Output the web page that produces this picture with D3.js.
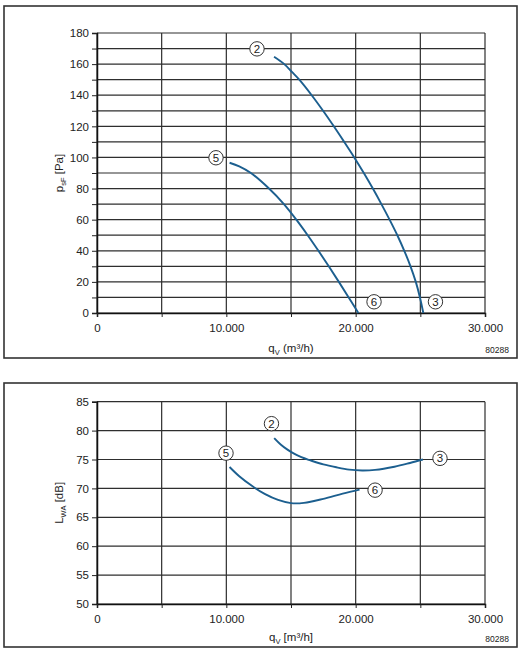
<!DOCTYPE html>
<html>
<head>
<meta charset="utf-8">
<script src="https://cdn.jsdelivr.net/npm/d3@7"></script>
<style>
  body { margin: 0; background: #fff; }
  svg text { font-family: "Liberation Sans", Arial, sans-serif; fill: #222; }
</style>
</head>
<body>
<div id="main"></div>
<script>

// pressure curves, q in m3/h, p in Pa
var pressure2 = [[13690,164.7],[14480,160],[15070,155],[15640,150],[16600,140],[17480,130],[18310,120],[19110,110],
                 [19890,100],[20630,90],[21330,80],[21990,70],[22620,60],[23220,50],[23760,40],[24240,30],
                 [24650,20],[24970,10],[25230,0]]
var pressure5 = [[10250,96.6],[11000,94.3],[11900,90],[13300,80],[14450,70],[15410,60],[16290,50],[17120,40],
                 [17920,30],[18700,20],[19460,10],[20210,0]]

// sound power curves, q in m3/h, LWA in dB
var sound2 = [[13700,78.7],[14200,77.6],[14700,76.75],[15200,76.05],[15800,75.4],[16500,74.85],[17500,74.15],
              [18500,73.65],[19500,73.25],[20500,73.1],[21500,73.2],[23000,73.75],[24200,74.4],[25200,75.0]]
var sound5 = [[10250,73.7],[11000,72.1],[12000,70.4],[13000,69.0],[14000,68.0],[15000,67.45],[16000,67.5],
              [17500,68.2],[19000,69.1],[20300,69.8]]

// operating point markers
var pressureMarks = [["2",12370,169.8],["5",9200,99.8],["6",21420,7.2],["3",26170,7.2]]
var soundMarks = [["2",13490,81.2],["5",9975,76.1],["3",26520,75.2],["6",21500,69.7]]

var xTicks = [0, 5000, 10000, 15000, 20000, 25000, 30000]
var xLabels = [0, 10000, 20000, 30000]
var pTicks = d3.range(0, 181, 10)
var pLabels = d3.range(0, 181, 20)
var lTicks = d3.range(50, 86, 5)

var W = 528, H = 655
var curveColor = "#1c5f8f"

var svg = d3.select("#main").append("svg")
	.attr("width", W)
	.attr("height", H)

function fmt(d) {
	return d === 0 ? "0" : d3.format(",")(d).replace(/,/g, ".")
}

function panel(o) {
	// frame
	svg.append("rect")
		.attr("x", 4).attr("y", o.frameTop)
		.attr("width", 513).attr("height", o.frameBottom - o.frameTop)
		.attr("fill", "none").attr("stroke", "#333").attr("stroke-width", 1.6)

	var x = d3.scaleLinear().domain([0, 30000]).range([97, 485])
	var y = d3.scaleLinear().domain(o.domain).range([o.bottom, o.top])

	var g = svg.append("g")

	// grid
	g.selectAll(".hg").data(o.ticks).enter().append("line")
		.attr("x1", 97).attr("x2", 485)
		.attr("y1", function(d) { return y(d) }).attr("y2", function(d) { return y(d) })
		.attr("stroke", "#2e2e2e").attr("stroke-width", 1.2)
	g.selectAll(".vg").data(xTicks).enter().append("line")
		.attr("y1", o.top).attr("y2", o.bottom)
		.attr("x1", function(d) { return x(d) }).attr("x2", function(d) { return x(d) })
		.attr("stroke", "#2e2e2e").attr("stroke-width", 1.2)

	// axes
	var ya = g.append("g").attr("transform", "translate(97,0)")
		.call(d3.axisLeft(y).tickValues(o.ticks).tickSize(5).tickPadding(3)
			.tickFormat(function(d) { return o.labels.indexOf(d) >= 0 ? d : "" }))
	var xa = g.append("g").attr("transform", "translate(0," + o.bottom + ")")
		.call(d3.axisBottom(x).tickValues(xTicks).tickSize(4).tickPadding(7)
			.tickFormat(function(d) { return xLabels.indexOf(d) >= 0 ? fmt(d) : "" }))
	;[ya, xa].forEach(function(a) {
		a.select(".domain").attr("stroke", "#111").attr("stroke-width", 1.5)
		a.selectAll(".tick line").attr("stroke", "#222")
		a.selectAll("text").style("font-size", "11.5px").attr("fill", "#222")
	})

	// curves
	var line = d3.line()
		.x(function(d) { return x(d[0]) })
		.y(function(d) { return y(d[1]) })
		.curve(d3.curveCatmullRom.alpha(0.5))
	o.curves.forEach(function(c) {
		g.append("path").datum(c).attr("d", line)
			.attr("fill", "none").attr("stroke", curveColor).attr("stroke-width", 1.9)
	})

	// markers
	var m = g.selectAll(".mark").data(o.marks).enter().append("g")
		.attr("transform", function(d) { return "translate(" + x(d[1]) + "," + y(d[2]) + ")" })
	m.append("circle").attr("r", 7.2).attr("fill", "#fff").attr("stroke", "#333").attr("stroke-width", 1)
	m.append("text").attr("text-anchor", "middle").attr("dy", "0.36em")
		.style("font-size", "11.5px").text(function(d) { return d[0] })

	// y title
	var yt = svg.append("text")
		.attr("transform", "translate(63," + ((o.top + o.bottom) / 2) + ") rotate(-90)")
		.attr("text-anchor", "middle").style("font-size", "11.5px")
	yt.append("tspan").text(o.ySym)
	yt.append("tspan").attr("dy", 3).style("font-size", "7.5px").text(o.ySub)
	yt.append("tspan").attr("dy", -3).text(" " + o.yUnit)

	// x title
	var xt = svg.append("text")
		.attr("x", 291).attr("y", o.xTitleY)
		.attr("text-anchor", "middle").style("font-size", "11.5px")
	xt.append("tspan").text("q")
	xt.append("tspan").attr("dy", 3).style("font-size", "7.5px").text("V")
	xt.append("tspan").attr("dy", -3).text(o.xUnit)

	svg.append("text")
		.attr("x", 509).attr("y", o.xTitleY + 1)
		.attr("text-anchor", "end").style("font-size", "8.5px").text("80288")
}

panel({
	frameTop: 6, frameBottom: 358,
	top: 33, bottom: 313,
	domain: [0, 180], ticks: pTicks, labels: pLabels,
	curves: [pressure2, pressure5], marks: pressureMarks,
	ySym: "p", ySub: "sF", yUnit: "[Pa]",
	xUnit: " (m³/h)", xTitleY: 352
})

panel({
	frameTop: 383, frameBottom: 647,
	top: 401.7, bottom: 604,
	domain: [50, 85], ticks: lTicks, labels: lTicks,
	curves: [sound2, sound5], marks: soundMarks,
	ySym: "L", ySub: "WA", yUnit: "[dB]",
	xUnit: " [m³/h]", xTitleY: 641
})

</script>
</body>
</html>
